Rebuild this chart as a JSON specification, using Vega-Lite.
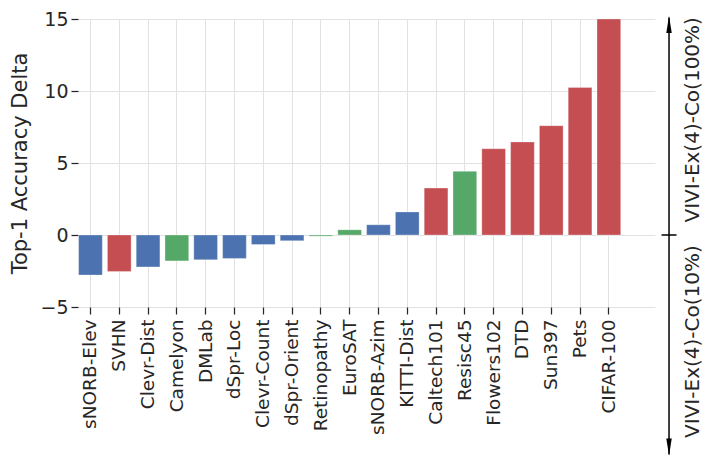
{
  "$schema": "https://vega.github.io/schema/vega-lite/v6.json",
  "width": 577,
  "height": 288,
  "autosize": {"type": "none"},
  "padding": {"left": 78, "top": 19, "right": 58, "bottom": 154},
  "config": {
    "font": "DejaVu Sans",
    "view": {"stroke": null},
    "axis": {
      "labelColor": "#262626",
      "titleColor": "#262626",
      "tickColor": "#262626",
      "gridColor": "#e2e2e2",
      "gridWidth": 1,
      "domain": false,
      "tickSize": 7,
      "tickWidth": 1.25,
      "titleFontWeight": "normal"
    }
  },
  "datasets": {
    "bars": [
      {"dataset": "sNORB-Elev", "group": "structured", "delta": -2.78},
      {"dataset": "SVHN", "group": "natural", "delta": -2.53},
      {"dataset": "Clevr-Dist", "group": "structured", "delta": -2.22},
      {"dataset": "Camelyon", "group": "specialized", "delta": -1.8},
      {"dataset": "DMLab", "group": "structured", "delta": -1.72},
      {"dataset": "dSpr-Loc", "group": "structured", "delta": -1.63},
      {"dataset": "Clevr-Count", "group": "structured", "delta": -0.66},
      {"dataset": "dSpr-Orient", "group": "structured", "delta": -0.4},
      {"dataset": "Retinopathy", "group": "specialized", "delta": -0.08},
      {"dataset": "EuroSAT", "group": "specialized", "delta": 0.36},
      {"dataset": "sNORB-Azim", "group": "structured", "delta": 0.71},
      {"dataset": "KITTI-Dist", "group": "structured", "delta": 1.6},
      {"dataset": "Caltech101", "group": "natural", "delta": 3.26},
      {"dataset": "Resisc45", "group": "specialized", "delta": 4.42},
      {"dataset": "Flowers102", "group": "natural", "delta": 5.99},
      {"dataset": "DTD", "group": "natural", "delta": 6.46},
      {"dataset": "Sun397", "group": "natural", "delta": 7.59},
      {"dataset": "Pets", "group": "natural", "delta": 10.25},
      {"dataset": "CIFAR-100", "group": "natural", "delta": 15.0}
    ]
  },
  "layer": [
    {
      "data": {"name": "bars"},
      "mark": {"type": "bar", "stroke": "#ffffff", "strokeWidth": 0.6, "strokeOpacity": 0.5},
      "encoding": {
        "x": {
          "field": "dataset",
          "type": "nominal",
          "sort": null,
          "scale": {
            "domain": ["sNORB-Elev", "SVHN", "Clevr-Dist", "Camelyon", "DMLab", "dSpr-Loc", "Clevr-Count", "dSpr-Orient", "Retinopathy", "EuroSAT", "sNORB-Azim", "KITTI-Dist", "Caltech101", "Resisc45", "Flowers102", "DTD", "Sun397", "Pets", "CIFAR-100", " "],
            "paddingInner": 0.177,
            "paddingOuter": 0.106,
            "align": 0.1
          },
          "axis": {
            "title": null,
            "values": ["sNORB-Elev", "SVHN", "Clevr-Dist", "Camelyon", "DMLab", "dSpr-Loc", "Clevr-Count", "dSpr-Orient", "Retinopathy", "EuroSAT", "sNORB-Azim", "KITTI-Dist", "Caltech101", "Resisc45", "Flowers102", "DTD", "Sun397", "Pets", "CIFAR-100"],
            "labelAngle": 270,
            "labelFontSize": 18.5,
            "labelPadding": 5,
            "grid": true,
            "bandPosition": 0.5
          }
        },
        "y": {
          "field": "delta",
          "type": "quantitative",
          "scale": {"domain": [-5, 15], "nice": false, "zero": false},
          "axis": {
            "title": "Top-1 Accuracy Delta",
            "values": [-5, 0, 5, 10, 15],
            "labelFontSize": 19,
            "labelPadding": 3,
            "titleFontSize": 21,
            "titlePadding": 9,
            "grid": true
          }
        },
        "color": {
          "field": "group",
          "type": "nominal",
          "scale": {"domain": ["natural", "specialized", "structured"], "range": ["#c44e52", "#55a868", "#4c72b0"]},
          "legend": null
        }
      }
    },
    {
      "data": {"values": [{}]},
      "layer": [
        {
          "mark": {"type": "rule", "color": "#000000", "strokeWidth": 1.5},
          "encoding": {
            "x": {"datum": 1.0243, "type": "quantitative", "scale": {"domain": [0, 1], "nice": false, "zero": false}, "axis": null},
            "y": {"datum": 15.1, "type": "quantitative", "scale": {"domain": [-5, 15], "nice": false, "zero": false}},
            "y2": {"datum": -15.25}
          }
        },
        {
          "mark": {"type": "point", "shape": "M0,-1L0.32,1L-0.32,1Z", "filled": true, "color": "#000000", "opacity": 1, "size": 289},
          "encoding": {
            "x": {"datum": 1.0243, "type": "quantitative", "scale": {"domain": [0, 1], "nice": false, "zero": false}, "axis": null},
            "y": {"datum": 14.62, "type": "quantitative", "scale": {"domain": [-5, 15], "nice": false, "zero": false}}
          }
        },
        {
          "mark": {"type": "point", "shape": "M0,1L0.32,-1L-0.32,-1Z", "filled": true, "color": "#000000", "opacity": 1, "size": 289},
          "encoding": {
            "x": {"datum": 1.0243, "type": "quantitative", "scale": {"domain": [0, 1], "nice": false, "zero": false}, "axis": null},
            "y": {"datum": -14.72, "type": "quantitative", "scale": {"domain": [-5, 15], "nice": false, "zero": false}}
          }
        },
        {
          "mark": {"type": "point", "shape": "stroke", "filled": false, "color": "#000000", "opacity": 1, "strokeWidth": 1.5, "size": 225},
          "encoding": {
            "x": {"datum": 1.0243, "type": "quantitative", "scale": {"domain": [0, 1], "nice": false, "zero": false}, "axis": null},
            "y": {"datum": 0, "type": "quantitative", "scale": {"domain": [-5, 15], "nice": false, "zero": false}}
          }
        },
        {
          "mark": {"type": "text", "angle": 270, "fontSize": 20, "align": "center", "baseline": "middle", "color": "#262626"},
          "encoding": {
            "x": {"datum": 1.0653, "type": "quantitative", "scale": {"domain": [0, 1], "nice": false, "zero": false}, "axis": null},
            "y": {"datum": 8.0, "type": "quantitative", "scale": {"domain": [-5, 15], "nice": false, "zero": false}},
            "text": {"value": "VIVI-Ex(4)-Co(100%)"}
          }
        },
        {
          "mark": {"type": "text", "angle": 270, "fontSize": 20, "align": "center", "baseline": "middle", "color": "#262626"},
          "encoding": {
            "x": {"datum": 1.0653, "type": "quantitative", "scale": {"domain": [0, 1], "nice": false, "zero": false}, "axis": null},
            "y": {"datum": -7.4, "type": "quantitative", "scale": {"domain": [-5, 15], "nice": false, "zero": false}},
            "text": {"value": "VIVI-Ex(4)-Co(10%)"}
          }
        }
      ]
    }
  ],
  "resolve": {"scale": {"x": "independent"}, "axis": {"x": "independent"}}
}
